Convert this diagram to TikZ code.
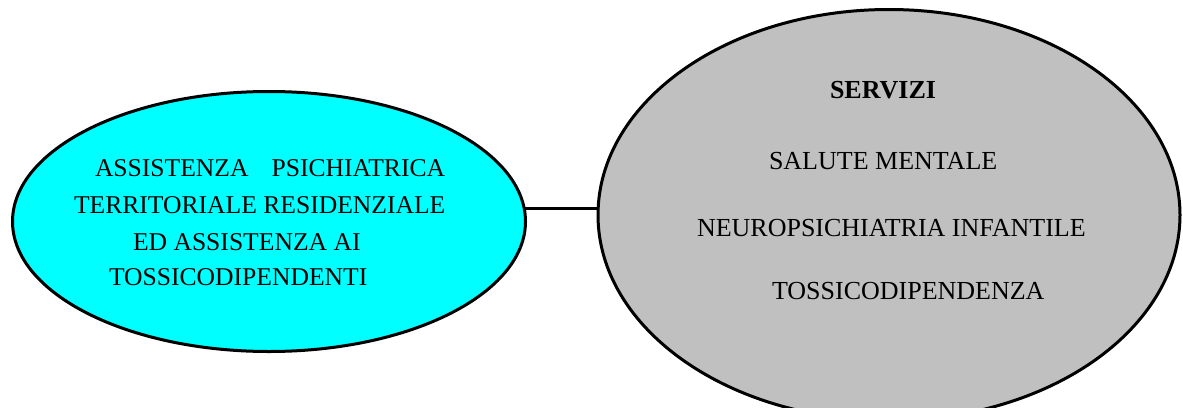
\documentclass[tikz,border=0pt]{standalone}
\usepackage{fontspec}
\setmainfont{Liberation Serif}
\usetikzlibrary{shapes.geometric}
\definecolor{cyanfill}{RGB}{0,255,255}
\definecolor{grayfill}{RGB}{192,192,192}
\begin{document}
\begin{tikzpicture}[x=1pt,y=-1pt,
  bubble/.style={ellipse,draw=black,line width=3pt,inner sep=0pt,outer sep=0pt},
  txt/.style={anchor=base west,inner sep=0pt,outer sep=0pt,font=\fontsize{25.6}{30}\selectfont},
  rtxt/.style={anchor=base west,inner sep=0pt,outer sep=0pt,font=\fontsize{26}{30}\selectfont},
  link/.style={draw=black,line width=3pt}]
\useasboundingbox (0,0) rectangle (1183,407);
\node[bubble,fill=cyanfill,minimum width=513pt,minimum height=260pt] (L) at (269,221.5) {};
\node[bubble,fill=grayfill,minimum width=582pt,minimum height=411pt] (R) at (889,215) {};
\draw[link] (L.3) -- (L.3 -| R.west);
\node[txt] (l1) at (95,176.5) {ASSISTENZA\hspace{23pt}PSICHIATRICA};
\node[txt] (l2) at (74,213.5) {TERRITORIALE RESIDENZIALE};
\node[txt] (l3) at (133,250.5) {ED ASSISTENZA AI};
\node[txt] (l4) at (109,285.5) {TOSSICODIPENDENTI};
\node[rtxt,font=\fontsize{26}{30}\selectfont\bfseries] (r1) at (830,98) {SERVIZI};
\node[rtxt] (r2) at (769,169.5) {SALUTE MENTALE};
\node[rtxt] (r3) at (697,236.5) {NEUROPSICHIATRIA INFANTILE};
\node[rtxt] (r4) at (772,299.5) {TOSSICODIPENDENZA};
\end{tikzpicture}
\end{document}
